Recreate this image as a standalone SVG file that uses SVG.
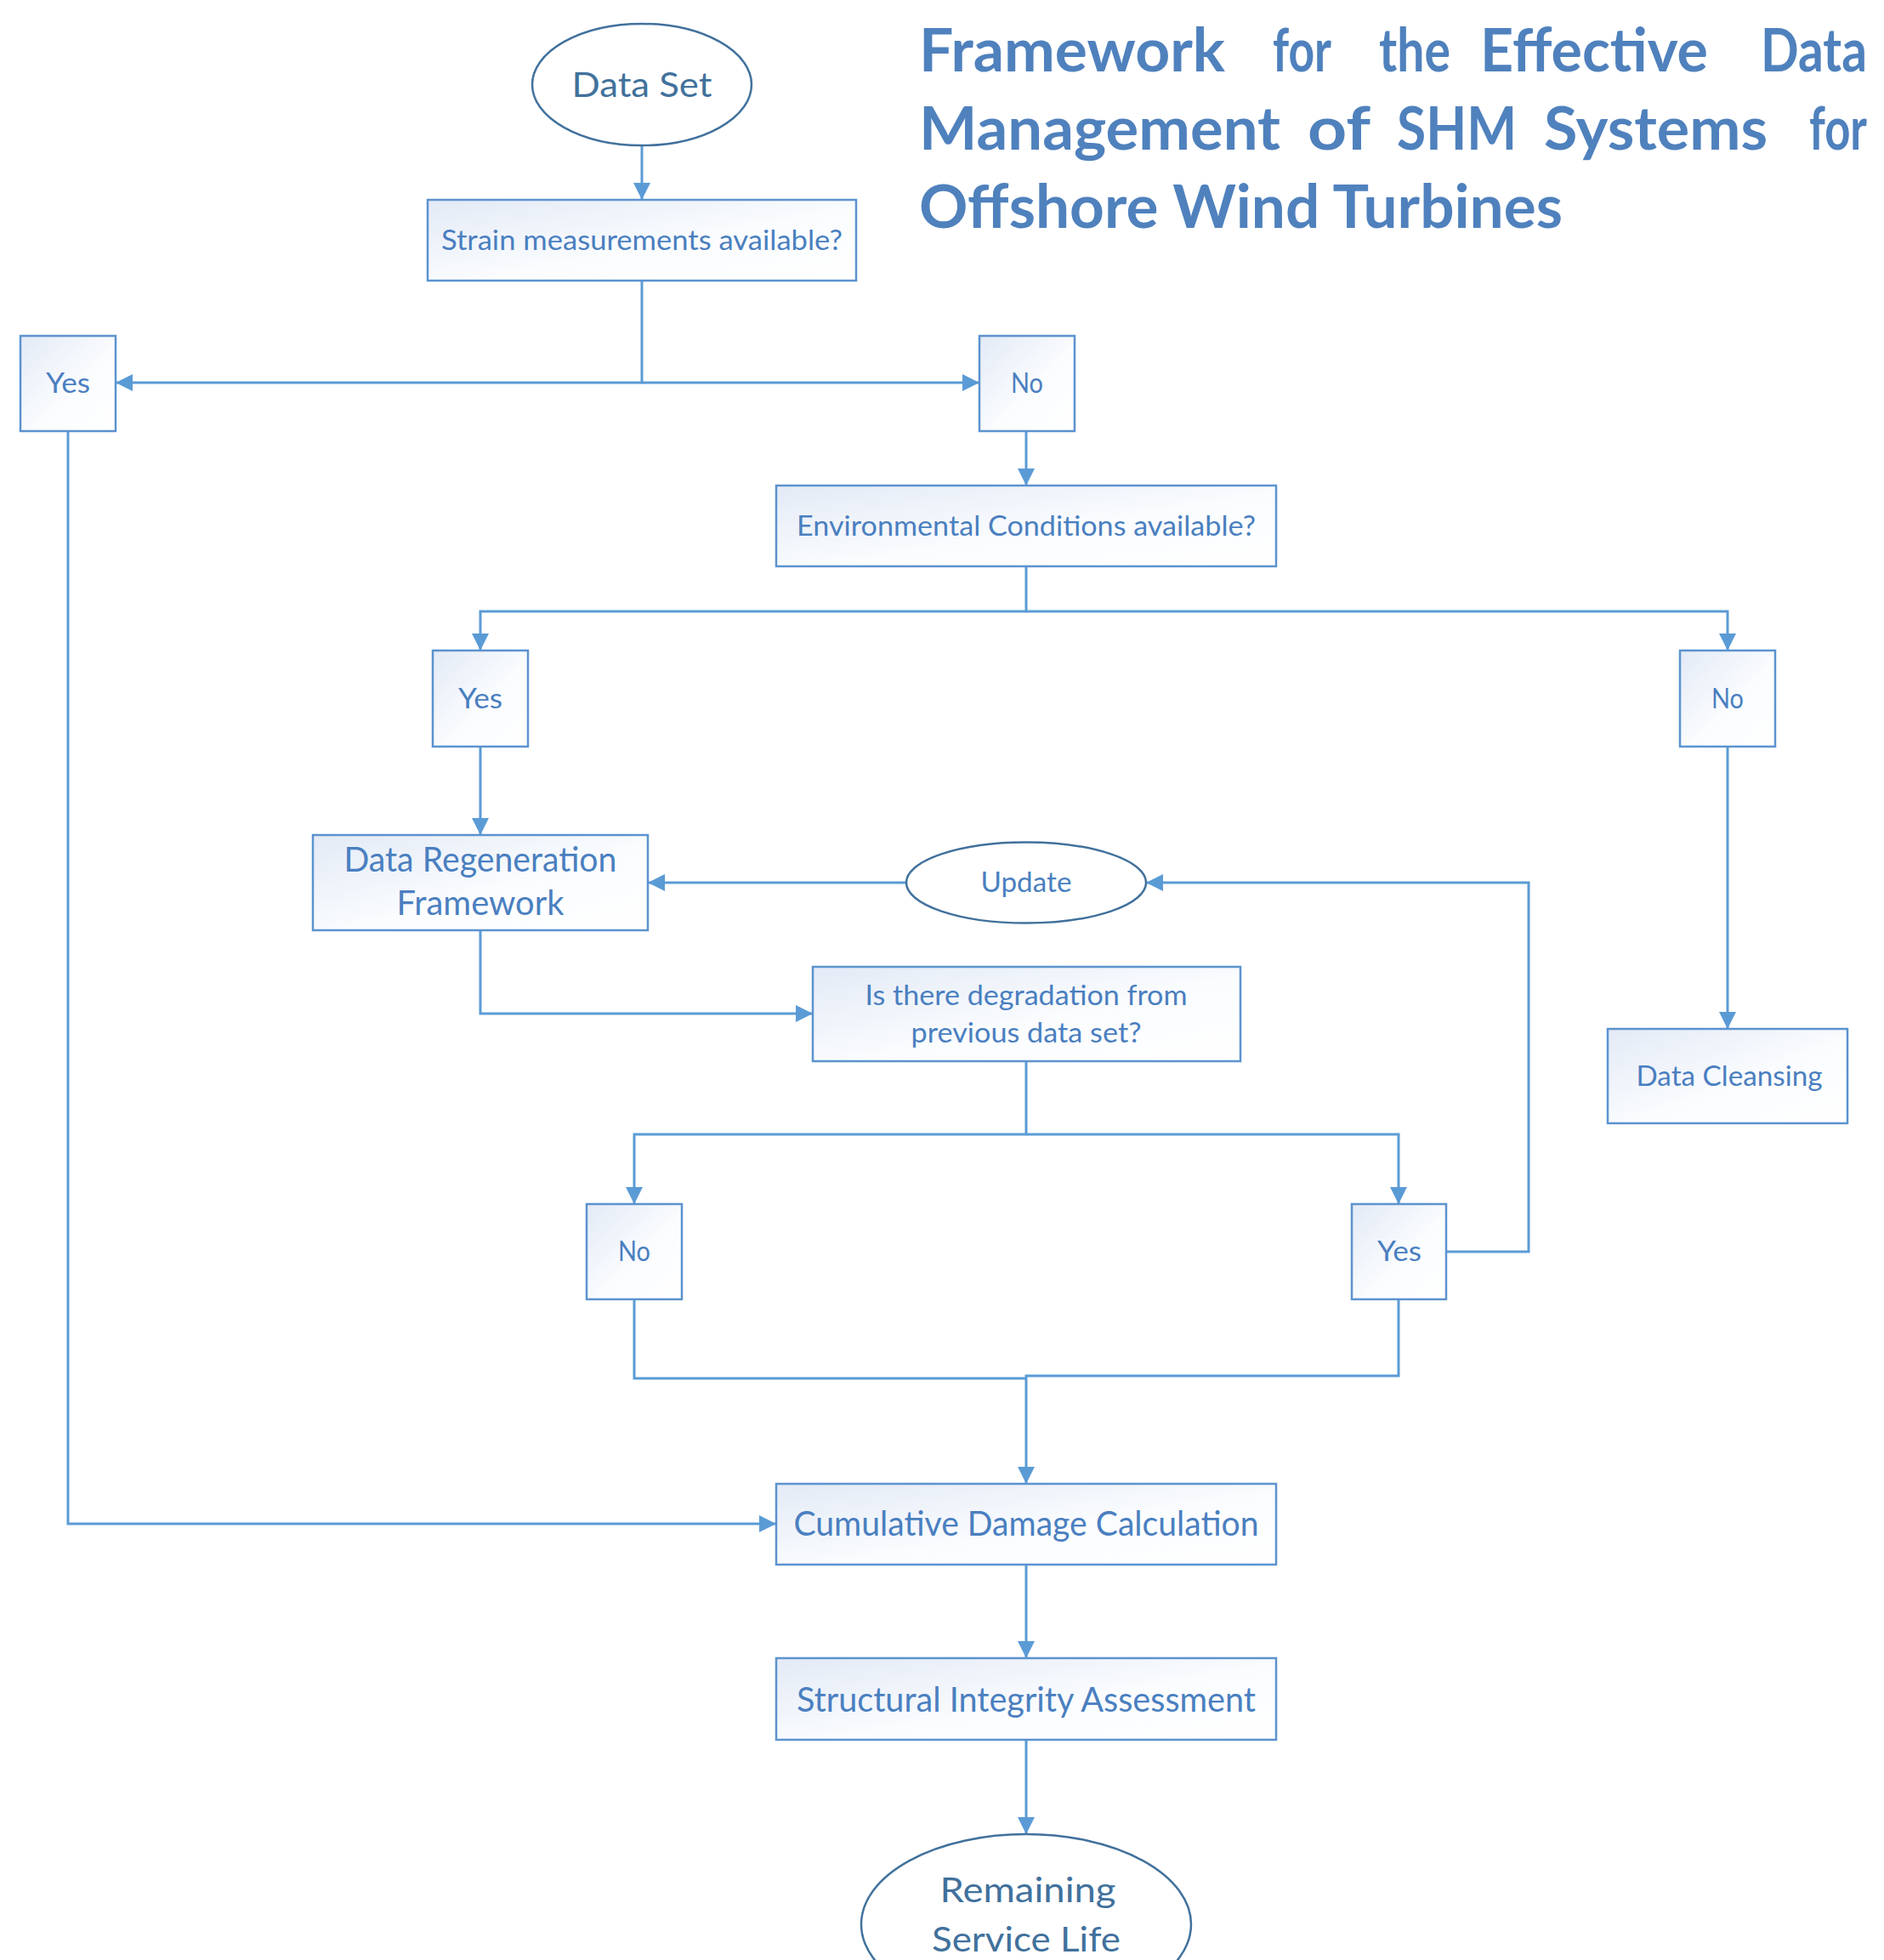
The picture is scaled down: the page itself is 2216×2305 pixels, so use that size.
<svg xmlns="http://www.w3.org/2000/svg" width="2216" height="2305" viewBox="0 0 2216 2305">
<style>
.bx{fill:url(#gf);stroke:#5B93CF;stroke-width:2.5}
.el{fill:#fff;stroke:#41719C;stroke-width:2.5}
.t{font-family:Lato,"Open Sans","Liberation Sans",sans-serif;fill:#4A7FC0;text-anchor:middle}
.s{font-size:33px}
.l{font-size:40px}
.et{fill:#41719C}
.ti{font-family:Lato,"Open Sans","Liberation Sans",sans-serif;font-weight:700;font-size:70px;fill:#4F81BD}
.te{text-anchor:end}
.c{fill:none;stroke:#5B9BD5;stroke-width:3;marker-end:url(#ah)}
.cn{fill:none;stroke:#5B9BD5;stroke-width:3}
</style>
<defs>
<linearGradient id="gf" x1="0" y1="0" x2="1" y2="1">
<stop offset="0" stop-color="#E3EAF6"/>
<stop offset="0.55" stop-color="#FAFCFE"/>
<stop offset="1" stop-color="#FFFFFF"/>
</linearGradient>
<marker id="ah" viewBox="0 0 20 20" refX="20" refY="10" markerWidth="20" markerHeight="20" markerUnits="userSpaceOnUse" orient="auto">
<path d="M0,0 L20,10 L0,20 z" fill="#5B9BD5"/>
</marker>
</defs>
<rect width="2216" height="2305" fill="#fff"/>

<g id="title">
<text class="ti" x="1081" y="84" textLength="360" lengthAdjust="spacingAndGlyphs">Framework</text>
<text class="ti" x="1497" y="84" textLength="69" lengthAdjust="spacingAndGlyphs">for</text>
<text class="ti" x="1622" y="84" textLength="84" lengthAdjust="spacingAndGlyphs">the</text>
<text class="ti" x="1741" y="84" textLength="268" lengthAdjust="spacingAndGlyphs">Effective</text>
<text class="ti te" x="2196" y="84" textLength="125" lengthAdjust="spacingAndGlyphs">Data</text>
<text class="ti" x="1081" y="176" textLength="425" lengthAdjust="spacingAndGlyphs">Management</text>
<text class="ti" x="1538" y="176" textLength="74" lengthAdjust="spacingAndGlyphs">of</text>
<text class="ti" x="1643" y="176" textLength="141" lengthAdjust="spacingAndGlyphs">SHM</text>
<text class="ti" x="1816" y="176" textLength="263" lengthAdjust="spacingAndGlyphs">Systems</text>
<text class="ti te" x="2196" y="176" textLength="68" lengthAdjust="spacingAndGlyphs">for</text>
<text class="ti" x="1081" y="268" textLength="757" lengthAdjust="spacingAndGlyphs">Offshore Wind Turbines</text>
</g>

<g id="connectors">
<path class="c" d="M755,171 V235"/>
<path class="c" d="M755,330 V450 H136"/>
<path class="c" d="M755,450 H1152"/>
<path class="c" d="M1207,507 V571"/>
<path class="c" d="M1207,666 V719 H565 V765"/>
<path class="c" d="M1207,719 H2032 V765"/>
<path class="c" d="M2032,878 V1210"/>
<path class="c" d="M565,878 V982"/>
<path class="c" d="M1067,1038 H762"/>
<path class="c" d="M1701,1472 H1798 V1038 H1348"/>
<path class="c" d="M565,1094 V1192 H956"/>
<path class="c" d="M1207,1248 V1334 H746 V1416"/>
<path class="c" d="M1207,1334 H1645 V1416"/>
<path class="cn" d="M746,1528 V1621 H1207"/>
<path class="c" d="M1645,1528 V1618 H1207 V1745"/>
<path class="c" d="M80,507 V1792 H913"/>
<path class="c" d="M1207,1840 V1950"/>
<path class="c" d="M1207,2046 V2157"/>
</g>

<g id="n-dataset">
<ellipse class="el" cx="755" cy="99.5" rx="129" ry="71.5"/>
<text class="t l et" x="755" y="114" textLength="165" lengthAdjust="spacingAndGlyphs">Data Set</text>
</g>
<g id="n-strain">
<rect class="bx" x="503" y="235" width="504" height="95"/>
<text class="t s" x="755" y="294" textLength="472" lengthAdjust="spacingAndGlyphs">Strain measurements available?</text>
</g>
<g id="n-yes1">
<rect class="bx" x="24" y="395" width="112" height="112"/>
<text class="t s" x="80" y="462" textLength="52" lengthAdjust="spacingAndGlyphs">Yes</text>
</g>
<g id="n-no1">
<rect class="bx" x="1152" y="395" width="112" height="112"/>
<text class="t s" x="1208" y="462" textLength="38" lengthAdjust="spacingAndGlyphs">No</text>
</g>
<g id="n-env">
<rect class="bx" x="913" y="571" width="588" height="95"/>
<text class="t s" x="1207" y="630" textLength="540" lengthAdjust="spacingAndGlyphs">Environmental Conditions available?</text>
</g>
<g id="n-yes2">
<rect class="bx" x="509" y="765" width="112" height="113"/>
<text class="t s" x="565" y="833" textLength="52" lengthAdjust="spacingAndGlyphs">Yes</text>
</g>
<g id="n-no2">
<rect class="bx" x="1976" y="765" width="112" height="113"/>
<text class="t s" x="2032" y="833" textLength="38" lengthAdjust="spacingAndGlyphs">No</text>
</g>
<g id="n-cleansing">
<rect class="bx" x="1891" y="1210" width="282" height="111"/>
<text class="t s" x="2034" y="1277" textLength="219" lengthAdjust="spacingAndGlyphs">Data Cleansing</text>
</g>
<g id="n-drf">
<rect class="bx" x="368" y="982" width="394" height="112"/>
<text class="t l" x="565" y="1025" textLength="321" lengthAdjust="spacingAndGlyphs">Data Regeneration</text>
<text class="t l" x="565" y="1076" textLength="197" lengthAdjust="spacingAndGlyphs">Framework</text>
</g>
<g id="n-update">
<ellipse class="el" cx="1207" cy="1038" rx="141" ry="47.5"/>
<text class="t s" x="1207" y="1049" textLength="107" lengthAdjust="spacingAndGlyphs">Update</text>
</g>
<g id="n-degradation">
<rect class="bx" x="956" y="1137" width="503" height="111"/>
<text class="t s" x="1207" y="1182" textLength="379" lengthAdjust="spacingAndGlyphs">Is there degradation from</text>
<text class="t s" x="1207" y="1226" textLength="271" lengthAdjust="spacingAndGlyphs">previous data set?</text>
</g>
<g id="n-no3">
<rect class="bx" x="690" y="1416" width="112" height="112"/>
<text class="t s" x="746" y="1483" textLength="38" lengthAdjust="spacingAndGlyphs">No</text>
</g>
<g id="n-yes3">
<rect class="bx" x="1590" y="1416" width="111" height="112"/>
<text class="t s" x="1646" y="1483" textLength="52" lengthAdjust="spacingAndGlyphs">Yes</text>
</g>
<g id="n-cumulative">
<rect class="bx" x="913" y="1745" width="588" height="95"/>
<text class="t l" x="1207" y="1806" textLength="547" lengthAdjust="spacingAndGlyphs">Cumulative Damage Calculation</text>
</g>
<g id="n-structural">
<rect class="bx" x="913" y="1950" width="588" height="96"/>
<text class="t l" x="1207" y="2013" textLength="540" lengthAdjust="spacingAndGlyphs">Structural Integrity Assessment</text>
</g>
<g id="n-remaining">
<ellipse class="el" cx="1207" cy="2263" rx="194" ry="106"/>
<text class="t l et" x="1209" y="2237" textLength="207" lengthAdjust="spacingAndGlyphs">Remaining</text>
<text class="t l et" x="1207" y="2295" textLength="222" lengthAdjust="spacingAndGlyphs">Service Life</text>
</g>
</svg>
